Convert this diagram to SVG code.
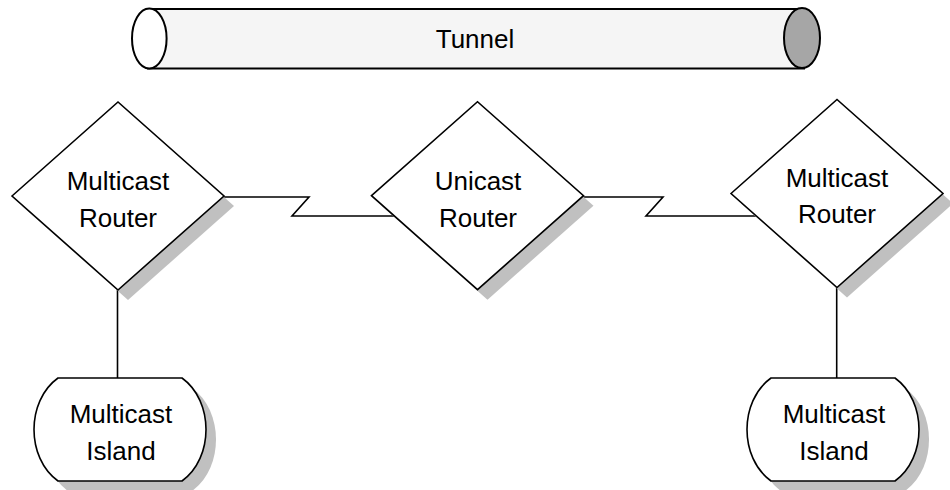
<svg xmlns="http://www.w3.org/2000/svg" width="950" height="490" viewBox="0 0 950 490">
<style>
.shape{fill:#ffffff;stroke:#000000;stroke-width:1.6}
.shadow{fill:#c0c0c0;stroke:none}
.lbl{font-family:"Liberation Sans",Arial,sans-serif;font-size:26px;fill:#000000;text-anchor:middle}
.conn{fill:none;stroke:#000000;stroke-width:1.6}
</style>
<defs>
<path id="dia" d="M-106,0 L0,-94 L106,0 L0,94 Z"/>
<path id="isl" d="M-62,-51.5 H62 C78,-40 86,-20 86,0 C86,20 78,40 62,51.5 H-62 C-78,40 -86,20 -86,0 C-86,-20 -78,-40 -62,-51.5 Z"/>
</defs>
<rect width="950" height="490" fill="#ffffff"/>
<g id="tunnel">
<rect x="149" y="9" width="653" height="59.5" fill="#f5f5f5"/>
<line x1="149" y1="9" x2="804" y2="9" stroke="#000" stroke-width="2"/>
<line x1="147" y1="68.5" x2="805" y2="68.5" stroke="#000" stroke-width="2"/>
<ellipse cx="149.3" cy="38.5" rx="17.3" ry="30" fill="#ffffff" stroke="#000" stroke-width="2"/>
<ellipse cx="802" cy="38" rx="18" ry="30" fill="#a6a6a6" stroke="#000" stroke-width="2"/>
<text class="lbl" x="475" y="48">Tunnel</text>
</g>
<g id="connectors">
<path class="conn" d="M224,197 H309 L292,216 H394"/>
<path class="conn" d="M583,197 H663 L646,216 H756"/>
<line class="conn" x1="117.5" y1="290" x2="117.5" y2="378"/>
<line class="conn" x1="836.7" y1="287" x2="836.7" y2="378"/>
</g>
<g id="router-left">
<use href="#dia" class="shadow" transform="translate(128,206)"/>
<use href="#dia" class="shape" transform="translate(118,196)"/>
<text class="lbl" x="118" y="189.5">Multicast</text>
<text class="lbl" x="118" y="226.5">Router</text>
</g>
<g id="router-mid">
<use href="#dia" class="shadow" transform="translate(487.5,205.7)"/>
<use href="#dia" class="shape" transform="translate(477.5,195.7)"/>
<text class="lbl" x="478" y="190">Unicast</text>
<text class="lbl" x="478" y="226.5">Router</text>
</g>
<g id="router-right">
<use href="#dia" class="shadow" transform="translate(847,203.5)"/>
<use href="#dia" class="shape" transform="translate(837,193.5)"/>
<text class="lbl" x="837" y="187.3">Multicast</text>
<text class="lbl" x="837" y="223.3">Router</text>
</g>
<g id="island-left">
<use href="#isl" class="shadow" transform="translate(130,439.5)"/>
<use href="#isl" class="shape" transform="translate(120,429.5)"/>
<text class="lbl" x="121" y="423.3">Multicast</text>
<text class="lbl" x="121" y="460">Island</text>
</g>
<g id="island-right">
<use href="#isl" class="shadow" transform="translate(843,439.5)"/>
<use href="#isl" class="shape" transform="translate(833,429.5)"/>
<text class="lbl" x="834" y="423.3">Multicast</text>
<text class="lbl" x="834" y="460">Island</text>
</g>
</svg>
